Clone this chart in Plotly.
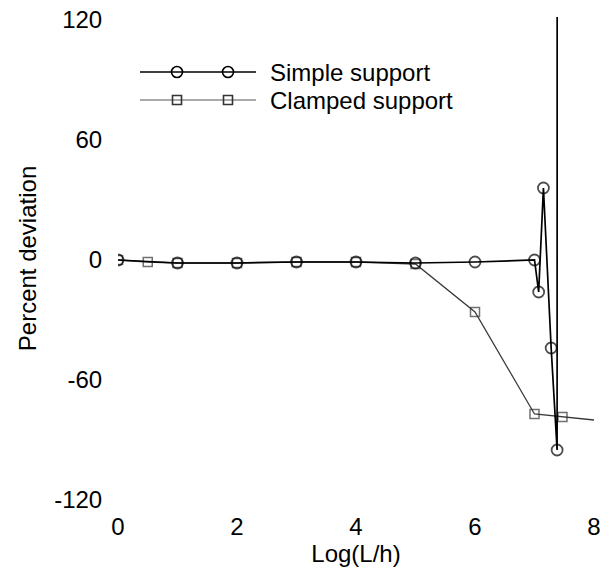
import plotly.graph_objects as go

# ---- data ----
simple_x = [0, 1, 2, 3, 4, 5, 6, 7.0, 7.07, 7.15, 7.28, 7.38, 7.40]
simple_y = [0, -1.5, -1.5, -1, -1, -1.5, -1, 0, -16, 36, -44, -95, 5000]

clamped_x = [0, 0.5, 1, 2, 3, 4, 5, 6, 7.0, 7.47, 8.0]
clamped_y = [0, -1, -1.5, -1.5, -1, -1, -2, -26, -77, -78.5, -80]

x_ticks = [0, 2, 4, 6, 8]
y_ticks = [-120, -60, 0, 60, 120]
legend_names = ["Simple support", "Clamped support"]

FONT = "Liberation Sans, Arial, Helvetica, sans-serif"
FS = 24
W, H = 610, 571
L, R, T, B = 118, 16, 17, 71

fig = go.Figure()

# clamped support (drawn first, underneath)
sq_sizes = [9] * (len(clamped_x) - 1) + [0]
fig.add_trace(go.Scatter(
    x=clamped_x, y=clamped_y, mode="lines+markers",
    line=dict(color="#3a3a3a", width=1.3),
    marker=dict(symbol="square-open", size=sq_sizes, color="#333333",
                line=dict(width=1.5, color="#333333")),
    showlegend=False, cliponaxis=True,
))

# simple support
ci_sizes = [11] * (len(simple_x) - 1) + [0]
fig.add_trace(go.Scatter(
    x=simple_x, y=simple_y, mode="lines+markers",
    line=dict(color="black", width=1.7),
    marker=dict(symbol="circle-open", size=ci_sizes, color="black",
                line=dict(width=1.8, color="black")),
    showlegend=False, cliponaxis=True,
))

# ---- custom legend on a pixel-mapped overlay axis ----
def py(p):  # pixel-from-top -> overlay value
    return H - p

leg_rows = [
    (72, dict(color="black", width=1.7), "circle-open", 11, "black"),
    (100, dict(color="#555555", width=1.2), "square-open", 9, "#333333"),
]
for (yp, ln, sym, sz, mc), name in zip(leg_rows, legend_names):
    fig.add_trace(go.Scatter(
        x=[140, 256], y=[py(yp), py(yp)], mode="lines",
        line=ln, xaxis="x2", yaxis="y2", showlegend=False, hoverinfo="skip"))
    fig.add_trace(go.Scatter(
        x=[177, 228], y=[py(yp), py(yp)], mode="markers",
        marker=dict(symbol=sym, size=sz, color=mc, line=dict(width=1.6, color=mc)),
        xaxis="x2", yaxis="y2", showlegend=False, hoverinfo="skip"))
    fig.add_annotation(x=268, y=py(yp), xref="x2", yref="y2", text=name,
                       showarrow=False, xanchor="left", yanchor="middle",
                       font=dict(family=FONT, size=FS, color="black"))

fig.update_layout(
    width=W, height=H,
    margin=dict(l=L, r=R, t=T, b=B, pad=0),
    paper_bgcolor="white", plot_bgcolor="white",
    font=dict(family=FONT, size=FS, color="black"),
    xaxis=dict(range=[0, 8], tickvals=x_ticks, ticktext=[str(v) for v in x_ticks],
               showline=False, showgrid=False, zeroline=False, automargin=False,
               ticks="outside", ticklen=5, tickcolor="rgba(0,0,0,0)",
               tickfont=dict(size=FS),
               title=dict(text="Log(L/h)", font=dict(size=FS), standoff=0)),
    yaxis=dict(range=[-120, 121.5], tickvals=y_ticks, ticktext=[str(v) for v in y_ticks],
               showline=False, showgrid=False, zeroline=False, automargin=False,
               ticks="outside", ticklen=10, tickcolor="rgba(0,0,0,0)",
               tickfont=dict(size=FS),
               title=dict(text="Percent deviation", font=dict(size=FS), standoff=10)),
    xaxis2=dict(range=[L, W - R], overlaying="x", visible=False, fixedrange=True),
    yaxis2=dict(range=[B, H - T], overlaying="y", visible=False, fixedrange=True),
)

fig.write_html("out.html", config={"displayModeBar": False},
               post_script="document.body.style.margin='0px';document.body.style.overflow='hidden';")
